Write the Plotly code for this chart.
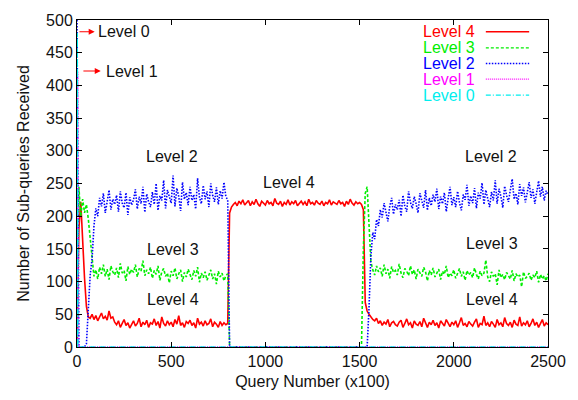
import plotly.graph_objects as go

# ---------------- data ----------------
x_grid = list(range(0, 2501, 10))

level4 = [
    0, 180, 222, 150, 105, 62, 46, 44, 50, 42,
    48, 40, 45, 52, 43, 47, 41, 55, 44, 46,
    38, 34, 40, 30, 36, 42, 33, 37, 29, 35,
    40, 32, 36, 44, 31, 38, 34, 41, 30, 37,
    35, 43, 33, 39, 29, 46, 36, 32, 40, 34,
    38, 31, 42, 35, 48, 33, 37, 30, 39, 36,
    41, 33, 37, 29, 44, 35, 38, 32, 40, 34,
    36, 43, 31, 38, 35, 30, 39, 33, 37, 34,
    36,
    205,
    214, 218, 221, 216, 223, 219, 225, 217,
    220, 224, 216, 222, 218, 226, 219, 215, 223, 220,
    217, 224, 219, 221, 216, 227, 220, 218, 223, 215,
    221, 218, 225, 217, 222, 219, 224, 216, 220, 223,
    218, 222, 216, 226, 219, 221, 217, 224, 220, 218,
    223, 216, 221, 219, 225, 217, 222, 220, 218, 224,
    219, 221, 215, 223, 218, 226, 220, 217, 222, 219,
    221, 218, 210, 68, 55, 50,
    46, 42, 40, 44,
    36, 40, 33, 38, 35, 42, 31, 37, 39, 34,
    32, 38, 41, 30, 36, 43, 34, 37, 29, 40,
    35, 33, 39, 31, 44, 36, 30, 38, 34, 41,
    33, 37, 29, 40, 35, 32, 42, 36, 31, 38,
    34, 40, 30, 37, 45, 33, 36, 31, 39, 35,
    32, 38, 43, 30, 36, 34, 47, 33, 37, 31,
    39, 35, 30, 42, 34, 37, 31, 45, 36, 33,
    38, 30, 41, 35, 33, 46, 32, 37, 34, 40,
    31, 36, 43, 33, 38, 30, 35, 42, 32, 37,
    34,
]

level3 = [
    0, 245, 200, 226, 205, 218, 196, 165, 130, 108,
    118, 104, 122, 112, 126, 108, 119, 103, 124, 115,
    110, 121, 106, 128, 113, 117, 101, 123, 111, 119,
    114, 126, 107, 120, 116, 132, 109, 118, 112, 122,
    105, 117, 111, 124, 102, 115, 120, 108, 113, 98,
    116, 109, 121, 104, 112, 118, 100, 114, 107, 119,
    111, 103, 117, 108, 122, 99, 113, 106, 115, 102,
    110, 118, 104, 112, 96, 116, 107, 113, 101, 109,
    112,
] + [0] * 71 + [
    150, 235, 245, 190, 130,
    118, 110, 124,
    115, 121, 108, 126, 112, 119, 105, 123, 114, 117,
    110, 127, 113, 106, 120, 116, 109, 124, 111, 118,
    104, 119, 113, 108, 122, 115, 101, 117, 110, 121,
    107, 114, 119, 103, 116, 111, 124, 106, 113, 109,
    118, 105, 112, 120, 108, 115, 102, 117, 110, 114,
    106, 121, 111, 104, 116, 109, 113, 133, 107, 100,
    115, 108, 112, 95, 118, 106, 111, 103, 114, 109,
    104, 117, 101, 112, 107, 110, 92, 115, 105, 108,
    113, 102, 110, 106, 116, 99, 111, 104, 109, 101,
    112,
]

level2 = [
    500, 0, 0, 0, 0, 5, 70, 110, 135, 185,
    212, 200, 228, 215, 235, 205, 222, 240, 210, 226,
    218, 232, 207, 238, 220, 213, 236, 202, 229, 217,
    225, 241, 211, 230, 219, 245, 206, 234, 222, 214,
    237, 218, 250, 209, 231, 224, 255, 212, 240, 228,
    220, 262, 215, 243, 230, 208, 252, 226, 236, 217,
    245, 224, 233, 211, 258, 229, 219, 247, 226, 238,
    214, 250, 232, 222, 244, 218, 239, 227, 252, 230,
    225,
] + [0] * 74 + [
    60, 140, 175, 165, 195,
    185, 210, 198, 220, 205, 192, 215, 228, 203, 218,
    210, 225, 200, 232, 215, 207, 238, 221, 212, 230,
    219, 205, 235, 224, 213, 240, 209, 228, 216, 233,
    222, 242, 211, 230, 219, 236, 207, 227, 245, 217,
    229, 214, 238, 221, 209, 233, 225, 248, 216, 231,
    220, 243, 212, 236, 227, 251, 218, 240, 229, 214,
    237, 224, 255, 219, 242, 230, 213, 246, 232, 222,
    240, 257, 226, 235, 218, 249, 231, 244, 221, 238,
    252, 228, 241, 219, 236, 254, 230, 245, 224, 239,
    232,
]

level1_x = [0, 3, 8, 2500]
level1 = [0, 420, 0, 0]
level0_x = [0, 1, 5, 2500]
level0 = [0, 480, 0, 0]

series_names = ["Level 4", "Level 3", "Level 2", "Level 1", "Level 0"]
series_colors = ["#ff0000", "#00ee00", "#0000ff", "#ff00ff", "#00eeee"]
series_dash = ["solid", "3px,2px", "1.5px,1.5px", "1px,1px", "5px,2px,1px,2px"]

x_ticks = [0, 500, 1000, 1500, 2000, 2500]
y_ticks = [0, 50, 100, 150, 200, 250, 300, 350, 400, 450, 500]

labels = [  # (text, x, y)
    ("Level 2", 503, 291), ("Level 3", 510, 149), ("Level 4", 510, 72),
    ("Level 4", 1127, 251),
    ("Level 2", 2196, 291), ("Level 3", 2201, 158), ("Level 4", 2201, 72),
]

FONT = "Liberation Sans, Arial, Helvetica, sans-serif"
FS = 16

fig = go.Figure()
xs = [x_grid, x_grid, x_grid, level1_x, level0_x]
ys = [level4, level3, level2, level1, level0]
for name, c, d, xv, yv in zip(series_names, series_colors, series_dash, xs, ys):
    fig.add_trace(go.Scatter(x=xv, y=yv, mode="lines", name=name,
                             line=dict(color=c, width=1.6, dash=d),
                             showlegend=False))

# text labels on the plot
for t, lx, ly in labels:
    fig.add_annotation(x=lx, y=ly, text=t, showarrow=False,
                       font=dict(family=FONT, size=FS, color="#111"))

# arrowed labels
for t, hx, tx, yy, txt_x in [("Level 0", 94, 5, 482, 102), ("Level 1", 126, 26, 422, 143)]:
    fig.add_annotation(x=hx, y=yy, ax=tx, ay=yy, axref="x", ayref="y",
                       text="", showarrow=True, arrowhead=2, arrowsize=1,
                       arrowwidth=1.2, arrowcolor="#ff0000")
    fig.add_annotation(x=txt_x, y=yy, text=t, showarrow=False, xanchor="left",
                       yanchor="middle",
                       font=dict(family=FONT, size=FS, color="#111"))

# manual legend (text left, line sample right)
leg_y = [0.964, 0.915, 0.867, 0.819, 0.770]
for name, c, d, yy in zip(series_names, series_colors, series_dash, leg_y):
    fig.add_annotation(x=0.849, y=yy, xref="paper", yref="paper", text=name,
                       showarrow=False, xanchor="right", yanchor="middle",
                       font=dict(family=FONT, size=FS, color=c))
    fig.add_shape(type="line", xref="paper", yref="paper",
                  x0=0.868, x1=0.960, y0=yy, y1=yy,
                  line=dict(color=c, width=1.3, dash=d))

axis_common = dict(showline=True, linecolor="black", linewidth=1, mirror="allticks",
                   ticks="inside", ticklen=5, tickcolor="black", showgrid=False,
                   zeroline=False, tickfont=dict(family=FONT, size=FS, color="#111"))

fig.update_xaxes(range=[0, 2500], tickvals=x_ticks,
                 title=dict(text="Query Number (x100)", font=dict(family=FONT, size=FS, color="#111"), standoff=6),
                 **axis_common)
fig.update_yaxes(range=[0, 500], tickvals=y_ticks,
                 title=dict(text="Number of Sub-queries Received", font=dict(family=FONT, size=FS, color="#111"), standoff=12),
                 **axis_common)

fig.update_layout(width=578, height=400, margin=dict(l=77, r=24, t=12, b=53),
                  plot_bgcolor="white", paper_bgcolor="white",
                  font=dict(family=FONT, size=FS), showlegend=False)

fig.write_html("out.html")
